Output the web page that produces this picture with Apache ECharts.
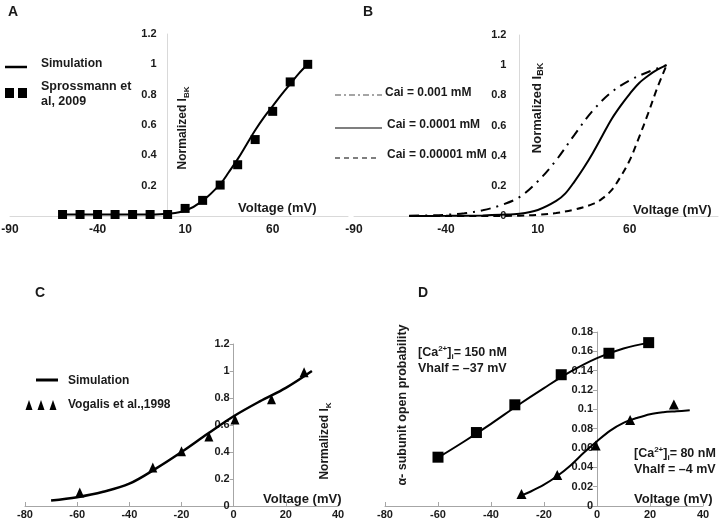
<!DOCTYPE html>
<html><head><meta charset="utf-8">
<script src="https://cdn.jsdelivr.net/npm/echarts@6/dist/echarts.min.js"></script>
<style>html,body{margin:0;padding:0;background:#fff}#c{width:720px;height:524px}</style>
</head><body><div id="c"></div>
<script>
// ---- Panel A data ----
var simA = [[-60,0.01],[-50,0.01],[-40,0.01],[-30,0.01],[-20,0.01],[-10,0.01],[0,0.015],[10,0.035],[20,0.1],[30,0.21],[35,0.29],[40,0.375],[45,0.47],[50,0.565],[55,0.65],[60,0.725],[65,0.8],[70,0.87],[75,0.94],[80,1.0]];
var expA = [[-60,0.01],[-50,0.01],[-40,0.01],[-30,0.01],[-20,0.01],[-10,0.01],[0,0.01],[10,0.05],[20,0.103],[30,0.204],[40,0.338],[50,0.504],[60,0.69],[70,0.884],[80,1.0]];
// ---- Panel B data ----
var cai001 = [[-60,0.002],[-50,0.004],[-40,0.008],[-30,0.018],[-20,0.038],[-10,0.072],[0,0.125],[10,0.23],[20,0.37],[30,0.54],[40,0.7],[50,0.82],[60,0.9],[70,0.955],[80,1.0]];
var cai0001 = [[-60,0],[-40,0.001],[-20,0.004],[-10,0.008],[0,0.015],[10,0.04],[20,0.1],[25,0.15],[30,0.23],[35,0.32],[40,0.42],[45,0.53],[50,0.64],[55,0.73],[60,0.81],[65,0.88],[70,0.93],[75,0.97],[80,1.0]];
var cai00001 = [[-60,0],[-20,0],[0,0.002],[10,0.008],[20,0.02],[30,0.043],[40,0.08],[45,0.115],[50,0.17],[55,0.26],[60,0.37],[65,0.52],[70,0.68],[75,0.85],[80,1.0]];
// ---- Panel C data ----
var simC = [[-70,0.04],[-60,0.065],[-50,0.105],[-40,0.165],[-30,0.275],[-20,0.4],[-10,0.535],[0,0.665],[10,0.775],[20,0.875],[30,1.0]];
var expC = [[-59,0.1],[-31,0.285],[-20,0.405],[-9.5,0.515],[0.5,0.64],[14.5,0.79],[27,0.99]];
// ---- Panel D data ----
var simD150 = [[-60,0.05],[-50,0.067],[-40,0.085],[-30,0.104],[-20,0.122],[-10,0.139],[0,0.153],[10,0.163],[20,0.169]];
var expD150 = [[-60,0.0505],[-45.5,0.076],[-31,0.1047],[-13.5,0.1358],[4.5,0.158],[19.5,0.169]];
var simD80 = [[-28.5,0.011],[-25,0.015],[-20,0.022],[-15,0.031],[-10,0.042],[-5,0.055],[0,0.067],[5,0.078],[10,0.086],[15,0.091],[20,0.095],[25,0.097],[30,0.098],[35,0.099]];
var expD80 = [[-28.5,0.0124],[-15,0.032],[-0.5,0.0625],[12.5,0.089],[29,0.105]];

var F = '"Liberation Sans", Arial, sans-serif';
var TXT = '#1a1a1a';

var grids = [
  {left:10, top:34, width:338, height:182, outerBoundsMode:'none', containLabel:false},
  {left:354, top:35, width:364, height:181, outerBoundsMode:'none', containLabel:false},
  {left:25, top:344, width:313, height:162, outerBoundsMode:'none', containLabel:false},
  {left:385, top:332, width:318, height:174, outerBoundsMode:'none', containLabel:false}
];

function xAx(g, min, max, itv, light, fs){
  return {type:'value', gridIndex:g, min:min, max:max, interval:itv,
    splitLine:{show:false},
    axisLine:{show:true, onZero:false, lineStyle:{color: light ? '#d9d9d9' : '#a6a6a6', width:1}},
    axisTick:{show: !light, inside:true, length:4, lineStyle:{color:'#a6a6a6'}},
    axisLabel:{showMaxLabel: !light ? true : false, showMinLabel:true, hideOverlap:false, fontFamily:F, fontWeight:'bold', fontSize:fs, color:TXT, margin: light ? 8 : 3}};
}
function yAx(g, min, max, itv, light, fs, margin, showMin){
  return {type:'value', gridIndex:g, min:min, max:max, interval:itv,
    splitLine:{show:false},
    axisLine:{show:true, onZero:false, lineStyle:{color: light ? '#d9d9d9' : '#a6a6a6', width:1}},
    axisTick:{show: !light, length:4, lineStyle:{color:'#a6a6a6'}},
    axisLabel:{showMinLabel: showMin, fontFamily:F, fontWeight:'bold', fontSize:fs, color:TXT, margin:margin}};
}
function line(g, data, type, w){
  return {type:'line', xAxisIndex:g, yAxisIndex:g, data:data, symbol:'none', smooth:0.35,
    lineStyle:{color:'#000', width:w, type:type}, z:3, silent:true};
}
function scat(g, data, sym, size){
  return {type:'scatter', xAxisIndex:g, yAxisIndex:g, data:data, symbol:sym, symbolSize:size,
    itemStyle:{color:'#000', opacity:1}, z:4, silent:true};
}
function t(x, y, text, fs, align){
  return {type:'text', x:x, y:y, style:{text:text, font:'bold '+fs+'px '+F, fill:TXT, align:align||'left', verticalAlign:'middle'}, z:10};
}
function rotSub(x, y, main, sub, fs){
  return {type:'text', x:x, y:y, rotation:Math.PI/2, z:10,
    style:{text:'{a|'+main+'}{s|'+sub+'}', align:'center', verticalAlign:'middle', fill:TXT,
      rich:{a:{fontFamily:F, fontWeight:'bold', fontSize:fs, lineHeight:fs+4, fill:TXT},
            s:{fontFamily:F, fontWeight:'bold', fontSize:Math.round(fs*0.68), verticalAlign:'bottom', fill:TXT}}}};
}
function caText(x, y, conc){
  return {type:'text', x:x, y:y, z:10,
    style:{text:'{a|[Ca}{p|2+}{a|]}{s|i}{a|= '+conc+'}', align:'left', verticalAlign:'middle', fill:TXT,
      rich:{a:{fontFamily:F, fontWeight:'bold', fontSize:12.5, lineHeight:16, fill:TXT},
            p:{fontFamily:F, fontWeight:'bold', fontSize:8, verticalAlign:'top', fill:TXT},
            s:{fontFamily:F, fontWeight:'bold', fontSize:8, verticalAlign:'bottom', fill:TXT}}}};
}
function hl(x1, x2, y, w, dash, col){
  return {type:'line', shape:{x1:x1, y1:y, x2:x2, y2:y}, z:10,
    style:{stroke:col||'#000', lineWidth:w, lineDash:dash||null}};
}

var chart = echarts.init(document.getElementById('c'), null, {renderer:'canvas'});
chart.setOption({
  animation:false,
  backgroundColor:'#fff',
  grid: grids,
  xAxis:[
    xAx(0, -90, 103, 50, true, 12),
    xAx(1, -90, 108, 50, true, 12),
    xAx(2, -80, 40, 20, false, 11),
    xAx(3, -80, 40, 20, false, 11)
  ],
  yAxis:[
    yAx(0, 0, 1.2, 0.2, true, 11, 11, false),
    yAx(1, 0, 1.2, 0.2, true, 11, 13, true),
    yAx(2, 0, 1.2, 0.2, false, 11, 4, true),
    yAx(3, 0, 0.18, 0.02, false, 11, 4, true)
  ],
  series:[
    line(0, simA, 'solid', 2),
    scat(0, expA, 'rect', 9),
    line(1, cai001, [10,6,2,6], 2),
    line(1, cai0001, 'solid', 2),
    line(1, cai00001, [7,5], 2),
    line(2, simC, 'solid', 2.5),
    scat(2, expC, 'triangle', [9,10]),
    line(3, simD150, 'solid', 2),
    scat(3, expD150, 'rect', 11),
    line(3, simD80, 'solid', 2),
    scat(3, expD80, 'triangle', [10,10])
  ],
  graphic:[
    t(8, 12, 'A', 14), t(363, 12, 'B', 14), t(35, 293, 'C', 14), t(418, 293, 'D', 14),
    // Panel A
    hl(5, 27, 67, 2.5),
    t(41, 64, 'Simulation', 12),
    {type:'rect', shape:{x:5, y:88, width:9, height:10}, style:{fill:'#000'}, z:10},
    {type:'rect', shape:{x:18, y:88, width:9, height:10}, style:{fill:'#000'}, z:10},
    t(41, 87, 'Sprossmann et', 12.5),
    t(41, 102, 'al, 2009', 12.5),
    rotSub(183, 128, 'Normalized I', 'BK', 12),
    t(238, 208, 'Voltage (mV)', 13),
    // Panel B
    hl(335, 382, 95, 1.5, [6,3,2,3], '#888'),
    t(385, 93, 'Cai = 0.001 mM', 12),
    hl(335, 382, 128, 1.2),
    t(387, 125, 'Cai = 0.0001 mM', 12),
    hl(335, 380, 158, 1.2, [5,4]),
    t(387, 155, 'Cai = 0.00001 mM', 12),
    rotSub(537, 108, 'Normalized I', 'BK', 13),
    t(633, 210, 'Voltage (mV)', 13),
    // Panel C
    hl(36, 58, 380, 3),
    t(68, 381, 'Simulation', 12),
    {type:'polygon', shape:{points:[[29,400],[25.5,410],[32.5,410]]}, style:{fill:'#000'}, z:10},
    {type:'polygon', shape:{points:[[41,400],[37.5,410],[44.5,410]]}, style:{fill:'#000'}, z:10},
    {type:'polygon', shape:{points:[[53,400],[49.5,410],[56.5,410]]}, style:{fill:'#000'}, z:10},
    t(68, 405, 'Vogalis et al.,1998', 12),
    rotSub(325, 441, 'Normalized I', 'K', 12),
    t(263, 499, 'Voltage (mV)', 13),
    // Panel D
    {type:'text', x:403, y:405, rotation:Math.PI/2, z:10, style:{text:'α- subunit open probability', font:'bold 12.5px '+F, fill:TXT, align:'center', verticalAlign:'middle'}},
    caText(418, 353, '150 nM'),
    t(418, 369, 'Vhalf = \u201337 mV', 12.5),
    caText(634, 454, '80 nM'),
    t(634, 470, 'Vhalf = \u20134 mV', 12.5),
    t(634, 499, 'Voltage (mV)', 13)
  ]
});
// place each vertical axis where the horizontal axis crosses zero
var offs = [];
for (var g = 0; g < 4; g++) {
  var px0 = chart.convertToPixel({xAxisIndex:g}, 0);
  offs.push({offset: -(px0 - grids[g].left)});
}
chart.setOption({yAxis: offs});
</script></body></html>
